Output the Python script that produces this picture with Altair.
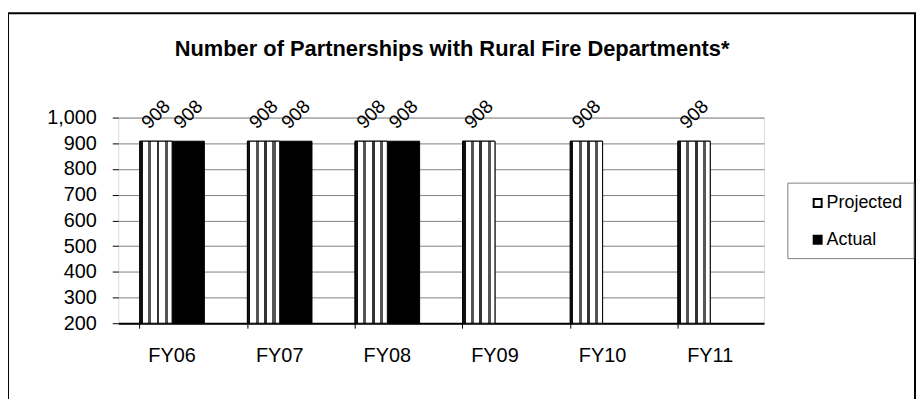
import altair as alt
import pandas as pd

categories = ["FY06", "FY07", "FY08", "FY09", "FY10", "FY11"]
projected = [908, 908, 908, 908, 908, 908]
actual = [908, 908, 908, None, None, None]
series_names = ["Projected", "Actual"]
y_ticks = [200, 300, 400, 500, 600, 700, 800, 900, 1000]
title_text = "Number of Partnerships with Rural Fire Departments*"

rows = []
for c, p, a in zip(categories, projected, actual):
    rows.append({"fy": c, "series": "Projected", "value": p})
    if a is not None:
        rows.append({"fy": c, "series": "Actual", "value": a})
df = pd.DataFrame(rows)
one = pd.DataFrame({"k": [0]})

FONT = "Liberation Sans"

xscale = alt.Scale(domain=categories, paddingInner=0.4, paddingOuter=0.2)
yscale = alt.Scale(domain=[200, 1000], zero=False, nice=False)
offscale = alt.Scale(domain=series_names, paddingInner=0)

stripes = {
    "gradient": "linear", "x1": 0, "x2": 1, "y1": 0, "y2": 0,
    "stops": [
        {"offset": 0.0, "color": "#111111"}, {"offset": 0.09, "color": "#111111"},
        {"offset": 0.09, "color": "#ffffff"}, {"offset": 0.26, "color": "#ffffff"},
        {"offset": 0.26, "color": "#555555"}, {"offset": 0.35, "color": "#555555"},
        {"offset": 0.35, "color": "#ffffff"}, {"offset": 0.52, "color": "#ffffff"},
        {"offset": 0.52, "color": "#333333"}, {"offset": 0.61, "color": "#333333"},
        {"offset": 0.61, "color": "#ffffff"}, {"offset": 0.77, "color": "#ffffff"},
        {"offset": 0.77, "color": "#555555"}, {"offset": 0.87, "color": "#555555"},
        {"offset": 0.87, "color": "#ffffff"}, {"offset": 1.0, "color": "#ffffff"},
    ],
}

# frame + legend box decorations
frame_left = alt.Chart(one).mark_rule(color="black", strokeWidth=2).encode(
    x=alt.value(-111), y=alt.value(-105), y2=alt.value(300))
frame_top = alt.Chart(one).mark_rule(color="black", strokeWidth=2).encode(
    x=alt.value(-112), x2=alt.value(803), y=alt.value(-105))
frame_right = alt.Chart(one).mark_rule(color="black", strokeWidth=2).encode(
    x=alt.value(802), y=alt.value(-105), y2=alt.value(300))
legend_box = alt.Chart(one).mark_rect(fill="white", stroke="#808080", strokeWidth=1).encode(
    x=alt.value(674), x2=alt.value(801), y=alt.value(66), y2=alt.value(142))
title = alt.Chart(one).mark_text(
    text=title_text, font=FONT, fontSize=22, fontWeight="bold", align="center", baseline="middle"
).encode(x=alt.value(336), y=alt.value(-69))

bars = alt.Chart(df).mark_bar(stroke="black", strokeWidth=1).encode(
    x=alt.X("fy:N", scale=xscale, sort=categories,
            axis=alt.Axis(title=None, ticks=False, labelFontSize=20, labelFont=FONT,
                          labelColor="black", labelPadding=23, domainColor="black",
                          domainWidth=2, labelAngle=0, orient="bottom")),
    xOffset=alt.XOffset("series:N", scale=offscale, sort=series_names),
    y=alt.Y("value:Q", scale=yscale,
            axis=alt.Axis(title=None, values=y_ticks, format=",d", labelFontSize=20,
                          labelFont=FONT, labelColor="black", tickColor="black", tickSize=6,
                          labelPadding=16, domain=False, gridColor="#808080", grid=True)),
    y2=alt.datum(200),
    color=alt.Color("series:N", scale=alt.Scale(domain=series_names, range=["white", "black"]),
                    legend=alt.Legend(title=None, orient="none", legendX=695, legendY=77,
                                      symbolType="square", symbolSize=64,
                                      symbolStrokeColor="black", symbolStrokeWidth=2,
                                      labelFontSize=18, labelFont=FONT, labelColor="black",
                                      rowPadding=19, padding=0, labelOffset=0)),
)

proj = alt.Chart(df).transform_filter(alt.datum.series == "Projected").mark_bar(
    fill=stripes, stroke="black", strokeWidth=1).encode(
    x=alt.X("fy:N", scale=xscale, sort=categories,
            axis=alt.Axis(title=None, labels=False, ticks=True, tickSize=5, tickColor="black",
                          bandPosition=0, domain=False, orient="bottom")),
    xOffset=alt.XOffset("series:N", scale=offscale, sort=series_names),
    y=alt.Y("value:Q", scale=yscale, axis=None),
    y2=alt.datum(200),
)

labels = alt.Chart(df).mark_text(
    font=FONT, fontSize=19, angle=315, align="center", baseline="middle", dx=19, dy=-19,
    color="black").encode(
    x=alt.X("fy:N", scale=xscale, sort=categories, axis=None),
    xOffset=alt.XOffset("series:N", scale=offscale, sort=series_names),
    y=alt.Y("value:Q", scale=yscale, axis=None),
    text=alt.Text("value:Q", format="d"),
)

chart = alt.layer(
    frame_left, frame_top, frame_right, legend_box, title, bars, proj, labels
).resolve_axis(x="independent", y="independent").properties(
    width=650, height=207,
    autosize=alt.AutoSizeParams(type="none"),
    padding={"left": 111, "top": 109, "right": 153, "bottom": 75},
).configure_view(stroke="black", strokeWidth=2).configure(background="white")

chart.save("out.html", embed_options={"renderer": "svg", "actions": False})
